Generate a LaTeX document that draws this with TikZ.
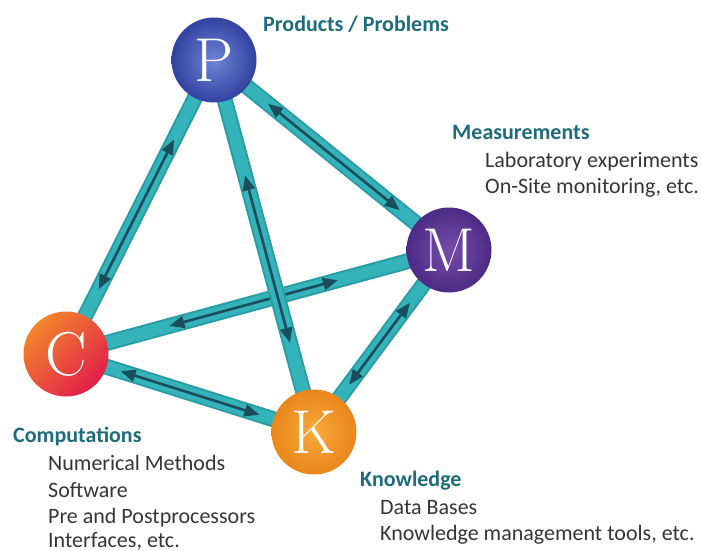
\documentclass[tikz,border=0pt]{standalone}
\usepackage{fontspec}
\newfontfamily\calib{Carlito}
\usetikzlibrary{arrows.meta,calc,backgrounds}
\definecolor{barout}{HTML}{2A9CA5}
\definecolor{barin}{HTML}{35B3BB}
\definecolor{arrc}{HTML}{1B4E5C}
\definecolor{headc}{HTML}{1E6B7C}
\definecolor{itemc}{HTML}{353535}
\tikzset{
 ball/.style={circle, minimum size=85pt, inner sep=0pt, text=white, font=\fontsize{62}{62}\selectfont},
 head/.style={anchor=base west, inner sep=0pt, text=headc, font=\calib\bfseries\fontsize{22}{26}\selectfont},
 item/.style={anchor=base west, inner sep=0pt, text=itemc, font=\calib\fontsize{22}{26}\selectfont},
 barA/.style={line width=16pt, draw=barout},
 barB/.style={line width=12pt, draw=barin},
 arr/.style={draw=arrc, line width=2.6pt, {Triangle[length=15pt,width=12pt]}-{Triangle[length=15pt,width=12pt]}}
}
\newcommand\linkedge[4]{%
 \draw[barA] (#1.center) -- (#2.center);
 \draw[barB] (#1.center) -- (#2.center);
 \draw[arr] ($(#1.center)!#3!(#2.center)$) -- ($(#1.center)!#4!(#2.center)$);
}
\begin{document}
\begin{tikzpicture}[x=1pt,y=-1pt]
\useasboundingbox (0,0) rectangle (701,551);
% nodes
\node[ball, shading=radial, inner color={rgb,255:red,110;green,132;blue,212}, outer color={rgb,255:red,50;green,66;blue,160}] (P) at (214,60) {P};
\node[ball, shading=radial, inner color={rgb,255:red,118;green,78;blue,172}, outer color={rgb,255:red,76;green,42;blue,134}] (M) at (449,250) {M};
\node[ball, shading=axis, top color={rgb,255:red,242;green,134;blue,44}, bottom color={rgb,255:red,226;green,30;blue,74}, shading angle=45] (C) at (66,354) {C};
\node[ball, shading=radial, inner color={rgb,255:red,247;green,170;blue,58}, outer color={rgb,255:red,234;green,134;blue,28}] (K) at (314,432) {K};
% connectors
\begin{pgfonlayer}{background}
\linkedge{P}{C}{0.27}{0.78}
\linkedge{P}{M}{0.23}{0.79}
\linkedge{M}{K}{0.29}{0.74}
\linkedge{C}{K}{0.22}{0.78}
\linkedge{M}{C}{0.29}{0.73}
\linkedge{P}{K}{0.31}{0.76}
\end{pgfonlayer}
% labels
\node[head] (tP) at (263,32) {Products / Problems};
\node[head] (tM) at (452,139) {Measurements};
\node[item] (tM1) at (485,167) {Laboratory experiments};
\node[item] (tM2) at (485,193) {On-Site monitoring, etc.};
\node[head] (tC) at (13,442) {Computations};
\node[item] (tC1) at (48,470) {Numerical Methods};
\node[item] (tC2) at (48,497) {Software};
\node[item] (tC3) at (48,523) {Pre and Postprocessors};
\node[item] (tC4) at (48,547) {Interfaces, etc.};
\node[head] (tK) at (360,486) {Knowledge};
\node[item] (tK1) at (380,514) {Data Bases};
\node[item] (tK2) at (380,540) {Knowledge management tools, etc.};
\end{tikzpicture}
\end{document}
